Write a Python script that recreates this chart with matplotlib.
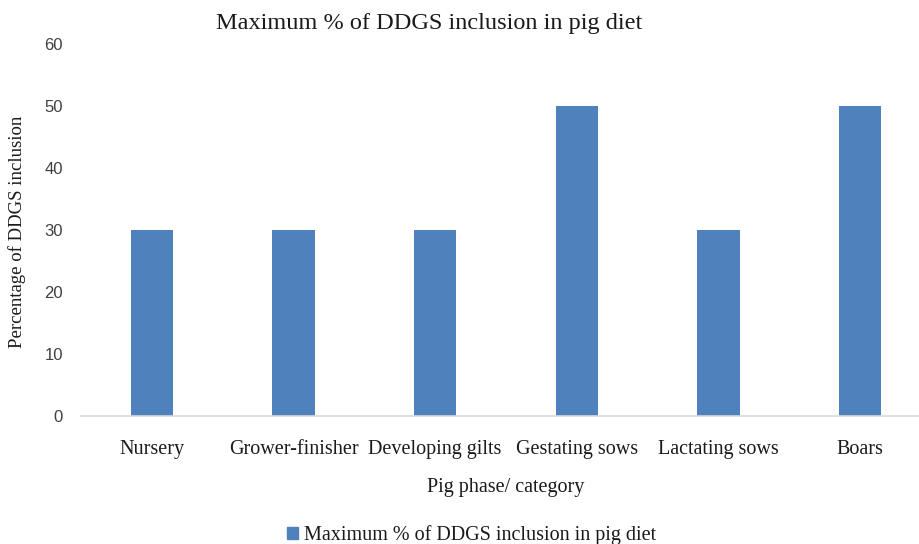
import matplotlib.pyplot as plt
from matplotlib.patches import Patch

categorias = ["Nursery", "Grower-finisher", "Developing gilts", "Gestating sows",
              "Lactating sows", "Boars"]
valores = [30, 30, 30, 50, 30, 50]
serie = "Maximum % of DDGS inclusion in pig diet"

cor = "#4F81BD"
serif = "Liberation Serif"

fig = plt.figure(figsize=(9.2, 5.44), dpi=100)
ax = fig.add_axes([81 / 920, 1 - 416 / 544, 850 / 920, 372 / 544])

x = range(len(categorias))
ax.bar(x, valores, width=0.30, color=cor)
ax.set_xlim(-0.5, len(categorias) - 0.5)
ax.set_ylim(0, 60)
ax.set_yticks(range(0, 61, 10))

for s in ["top", "right", "left"]:
    ax.spines[s].set_visible(False)
ax.spines["bottom"].set_color("#d9d9d9")
ax.spines["bottom"].set_linewidth(1.2)

ax.tick_params(axis="y", length=0, pad=13, labelsize=12, labelcolor="#404040")
ax.tick_params(axis="x", length=0, pad=17)
ax.set_xticks(list(x))
ax.set_xticklabels(categorias, fontfamily=serif, fontsize=14.5, color="#1a1a1a")
for lab in ax.get_yticklabels():
    lab.set_fontfamily("Liberation Sans")

ax.set_xlabel("Pig phase/ category", fontfamily=serif, fontsize=14.5,
              color="#1a1a1a", labelpad=14)
fig.text(17 / 920, 1 - 232 / 544, "Percentage of DDGS inclusion", rotation=90,
         ha="center", va="center", fontfamily=serif, fontsize=13.5, color="#1a1a1a")

fig.text(429 / 920, 1 - 23 / 544, serie, ha="center", va="center",
         fontfamily=serif, fontsize=17.5, color="#1a1a1a")

leg = fig.legend(handles=[Patch(color=cor, label=serie)], loc="center",
                 bbox_to_anchor=(472 / 920, 1 - 535 / 544), frameon=False,
                 prop={"family": serif, "size": 14.5}, handlelength=0.55,
                 handleheight=0.55, handletextpad=0.3)
for t in leg.get_texts():
    t.set_color("#1a1a1a")

fig.savefig("out.png", dpi=100)
